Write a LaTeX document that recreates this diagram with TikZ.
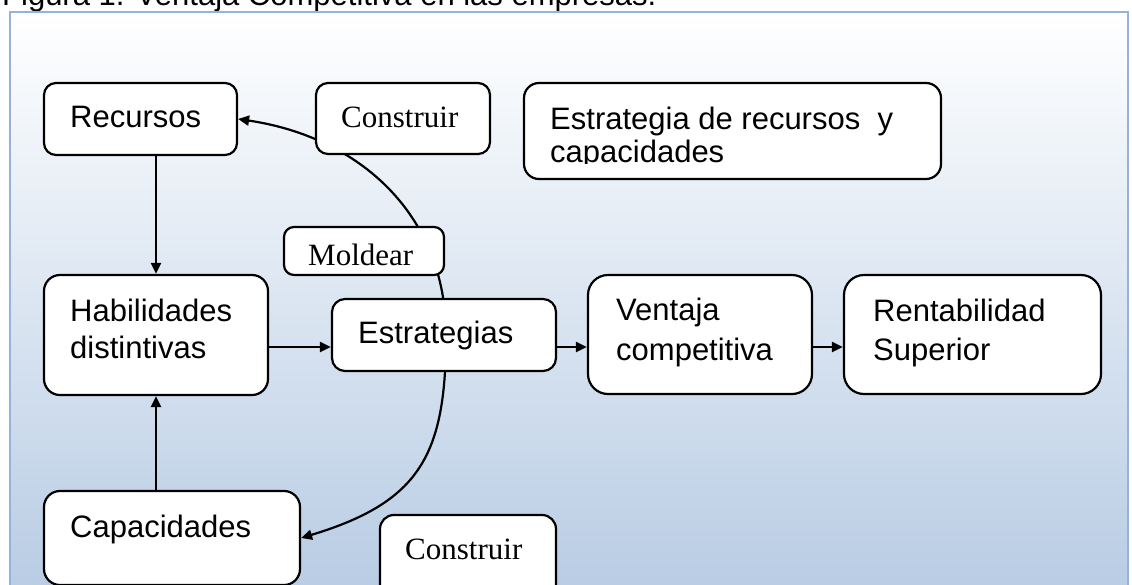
\documentclass[tikz,border=0pt]{standalone}
\usepackage{fontspec}
\setmainfont{Liberation Sans}
\newfontfamily\serifface{Liberation Serif}
\usetikzlibrary{arrows.meta}
\definecolor{framec}{RGB}{149,179,215}
\definecolor{bgbot}{RGB}{184,204,228}
\begin{document}
\begin{tikzpicture}[x=1pt,y=-1pt,
  box/.style={draw, line width=2.2pt, fill=white, inner sep=0pt},
  lbl/.style={anchor=base west, inner sep=0pt, font=\fontsize{31}{38}\selectfont},
  slbl/.style={anchor=base west, inner sep=0pt, font=\serifface\fontsize{31}{38}\selectfont},
  arr/.style={line width=2.2pt, -{Triangle[length=11pt,width=10pt]}},
  arc/.style={line width=2.2pt, {Triangle[length=11pt,width=10pt]}-{Triangle[length=11pt,width=10pt]}}
]
\useasboundingbox (0,0) rectangle (1132,584);
\clip (0,0) rectangle (1132,584);
% title (cut at top)
\node[lbl] (title) at (2,5) {Figura 1. Ventaja Competitiva en las empresas.};
% background frame
\path[top color=white, bottom color=bgbot, draw=framec, line width=1.8pt] (10,12) rectangle (1128,592);

% boxes not crossing the arc
\node[box, rounded corners=12pt, minimum width=193pt, minimum height=72pt] (rec) at (140.5,119) {};
\node[box, rounded corners=15pt, minimum width=417pt, minimum height=96pt] (erc) at (732.5,131) {};
\node[box, rounded corners=16pt, minimum width=224pt, minimum height=120pt] (hab) at (156,335) {};
\node[box, rounded corners=20pt, minimum width=224pt, minimum height=119pt] (ven) at (700,334.5) {};
\node[box, rounded corners=20pt, minimum width=257pt, minimum height=119pt] (ren) at (972.5,334.5) {};
\node[box, rounded corners=16pt, minimum width=256pt, minimum height=94pt] (cap) at (172,538) {};
\node[box, rounded corners=14pt, minimum width=176pt, minimum height=90pt] (con2) at (468,560) {};

% the arc
\draw[arc] (rec.east) .. controls (360,137) and (446,215) .. (446,335)
  .. controls (446,455) and (420,502) .. (cap.east);

% boxes lying on the arc
\node[box, rounded corners=12pt, minimum width=174pt, minimum height=71pt] (con1) at (403,118.5) {};
\node[box, rounded corners=10pt, minimum width=160pt, minimum height=48pt] (mol) at (364,251) {};
\node[box, rounded corners=13pt, minimum width=224pt, minimum height=72pt] (est) at (444,335) {};

% straight arrows
\draw[arr] (hab.north |- rec.south) -- (hab.north);
\draw[arr] (hab.south |- cap.north) -- (hab.south);
\draw[arr] ([yshift=-12pt]hab.east) -- ([yshift=-12pt]hab.east -| est.west);
\draw[arr] ([yshift=-12pt]est.east) -- ([yshift=-12pt]est.east -| ven.west);
\draw[arr] ([yshift=-12.5pt]ven.east) -- ([yshift=-12.5pt]ven.east -| ren.west);

% texts
\node[lbl] (recT) at (70,127) {Recursos};
\node[slbl] (con1T) at (341,127) {Construir};
\begin{scope}
\clip (524,83) rectangle (941,163.5);
\node[lbl] (ercT1) at (550,129) {Estrategia de recursos\ \ y};
\node[lbl] (ercT2) at (550,162) {capacidades};
\end{scope}
\node[slbl] (molT) at (308,265) {Moldear};
\node[lbl] (habT1) at (70,321) {Habilidades};
\node[lbl] (habT2) at (70,358) {distintivas};
\node[lbl] (estT) at (358,343) {Estrategias};
\node[lbl] (venT1) at (616,320) {Ventaja};
\node[lbl] (venT2) at (616,360) {competitiva};
\node[lbl] (renT1) at (873,321) {Rentabilidad};
\node[lbl] (renT2) at (873,360) {Superior};
\node[lbl] (capT) at (70,537) {Capacidades};
\node[slbl] (con2T) at (405,559) {Construir};
\end{tikzpicture}
\end{document}
